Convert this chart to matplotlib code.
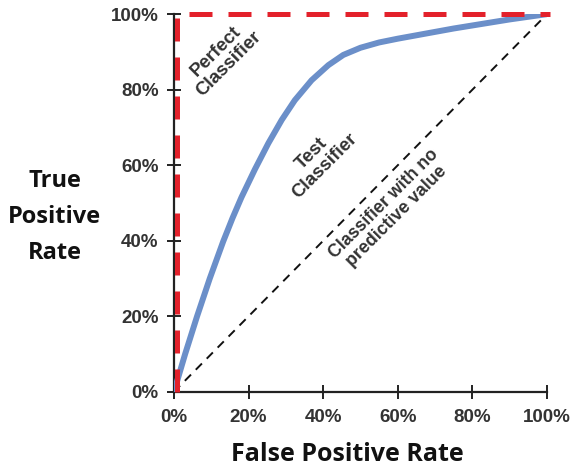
import matplotlib
matplotlib.use("Agg")
import matplotlib.pyplot as plt
import matplotlib.transforms as mtransforms
import numpy as np

# ROC curve values (percent)
fpr = [0, 3, 6.2, 9.6, 13.2, 15.7, 18.1, 21.7, 25.3, 28.9, 32.4, 36.9, 41.4,
       45.4, 50, 55, 60, 65, 70, 75, 80, 85, 90, 95, 100]
tpr = [0, 10, 20, 30, 39.8, 46, 51.5, 58.9, 65.8, 72, 77.2, 82.5, 86.5,
       89.2, 91.1, 92.5, 93.5, 94.4, 95.3, 96.2, 97, 97.8, 98.6, 99.3, 100]

perfect_x = [0, 0, 100]
perfect_y = [0, 100, 100]
chance_x = [0, 100]
chance_y = [0, 100]

ticks = [0, 20, 40, 60, 80, 100]
tick_labels = ["0%", "20%", "40%", "60%", "80%", "100%"]

fig = plt.figure(figsize=(5.74, 4.71), dpi=100)
ax = fig.add_axes([0.303, 0.168, 0.65, 0.802])

ax.plot(chance_x, chance_y, color="#111111", linestyle=(0, (4.5, 3.5)), linewidth=1.4, zorder=2)
ax.plot(fpr, tpr, color="#6b8fc9", linewidth=4.3, solid_capstyle="round",
        solid_joinstyle="round", zorder=3)
# red line sits just right of the y spine in the original
shifted = mtransforms.offset_copy(ax.transData, fig=fig, x=2.2, y=0, units="points")
ax.plot(perfect_x, perfect_y, color="#e3212b", linestyle=(0, (4.6, 3.2)), linewidth=3.6,
        zorder=4, clip_on=False, transform=shifted)

ax.set_xlim(0, 100)
ax.set_ylim(0, 100)
ax.set_xticks(ticks)
ax.set_yticks(ticks)
ax.set_xticklabels(tick_labels)
ax.set_yticklabels(tick_labels)
for s in ["top", "right"]:
    ax.spines[s].set_visible(False)
for s in ["left", "bottom"]:
    ax.spines[s].set_linewidth(1.6)
    ax.spines[s].set_color("#222222")
ax.tick_params(direction="inout", length=10, width=1.4, color="#222222",
               labelsize=13.5, labelcolor="#333333")
ax.tick_params(axis="x", pad=7)
ax.tick_params(axis="y", pad=6)
for lab in ax.get_xticklabels() + ax.get_yticklabels():
    lab.set_fontweight("bold")
    lab.set_family("Liberation Sans")

fig.text(0.606, 0.034, "False Positive Rate", ha="center", va="center", fontsize=18,
         fontweight="bold", family="Open Sans", color="#111111")
fig.text(0.095, 0.539, "True\nPositive\nRate", ha="center", va="center", fontsize=17,
         fontweight="bold", family="Open Sans", color="#111111", linespacing=1.65)

txt = dict(rotation=45, ha="center", va="center", fontweight="bold",
           family="Liberation Sans", color="#333333", rotation_mode="anchor", linespacing=1.1)
ax.text(12.9, 88.4, "Perfect\nClassifier", fontsize=13.5, **txt)
ax.text(38.6, 61.4, "Test\nClassifier", fontsize=13.5, **txt)
ax.text(57.9, 48.1, "Classifier with no\npredictive value", fontsize=12.8, **txt)

fig.savefig("out.png", dpi=100)
